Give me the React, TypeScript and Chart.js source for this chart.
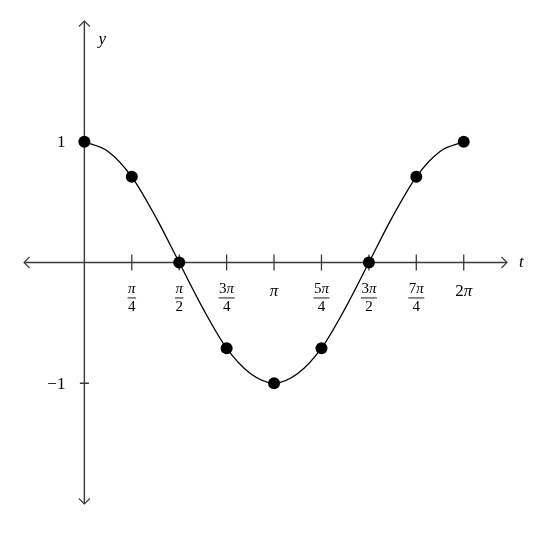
import { Chart, registerables, type Plugin } from "chart.js";
import { useEffect, useRef } from "react";

Chart.register(...registerables);

// marked points, in steps of π/4
const quarterSteps = [0, 1, 2, 3, 4, 5, 6, 7, 8];
const pointValues = [1, 0.71, 0, -0.71, -1, -0.71, 0, 0.71, 1];

// curve, in steps of π/8
const eighthSteps = [0, 1, 2, 3, 4, 5, 6, 7, 8, 9, 10, 11, 12, 13, 14, 15, 16];
const curveValues = [
  1, 0.92, 0.71, 0.38, 0, -0.38, -0.71, -0.92, -1, -0.92, -0.71, -0.38, 0, 0.38,
  0.71, 0.92, 1,
];

// t-axis ticks (steps of π/4) and their fraction labels
const tickSteps = [1, 2, 3, 4, 5, 6, 7, 8];
const tickNumerators = ["π", "π", "3π", "π", "5π", "3π", "7π", "2π"];
const tickDenominators = ["4", "2", "4", "", "4", "2", "4", ""];

// y-axis ticks
const yTickValues = [1, -1];
const yTickLabels = ["1", "−1"];

const SERIF = '"Times New Roman", "Liberation Serif", "DejaVu Serif", serif';
const AXIS_COLOR = "#3a3a3a";

// draws text where π is italic, centred at cx; returns its width
const drawMath = (
  ctx: CanvasRenderingContext2D,
  text: string,
  cx: number,
  cy: number,
  size: number
) => {
  const parts = text.split(/(π)/).filter(Boolean);
  const fontFor = (p: string) => `${p === "π" ? "italic " : ""}${size}px ${SERIF}`;
  const widths = parts.map((p) => {
    ctx.font = fontFor(p);
    return ctx.measureText(p).width;
  });
  const total = widths.reduce((a, b) => a + b, 0);
  let x = cx - total / 2;
  ctx.textAlign = "left";
  ctx.textBaseline = "middle";
  parts.forEach((p, i) => {
    ctx.font = fontFor(p);
    ctx.fillText(p, x, cy);
    x += widths[i];
  });
  return total;
};

const axesPlugin: Plugin<"line"> = {
  id: "mathAxes",
  beforeDatasetsDraw(chart) {
    const { ctx } = chart;
    const xs = chart.scales.x;
    const ys = chart.scales.y;
    const x0 = xs.getPixelForValue(0);
    const y0 = ys.getPixelForValue(0);
    const left = xs.getPixelForValue(xs.min);
    const right = xs.getPixelForValue(xs.max);
    const top = ys.getPixelForValue(ys.max);
    const bottom = ys.getPixelForValue(ys.min);

    ctx.save();
    ctx.strokeStyle = AXIS_COLOR;
    ctx.lineWidth = 1.4;
    ctx.beginPath();
    ctx.moveTo(left, y0);
    ctx.lineTo(right, y0);
    ctx.moveTo(x0, top);
    ctx.lineTo(x0, bottom);
    ctx.stroke();

    // arrow heads
    const a = 5.5;
    ctx.lineWidth = 1.1;
    ctx.beginPath();
    ctx.moveTo(left + a, y0 - a);
    ctx.lineTo(left, y0);
    ctx.lineTo(left + a, y0 + a);
    ctx.moveTo(right - a, y0 - a);
    ctx.lineTo(right, y0);
    ctx.lineTo(right - a, y0 + a);
    ctx.moveTo(x0 - a, top + a);
    ctx.lineTo(x0, top);
    ctx.lineTo(x0 + a, top + a);
    ctx.moveTo(x0 - a, bottom - a);
    ctx.lineTo(x0, bottom);
    ctx.lineTo(x0 + a, bottom - a);
    ctx.stroke();

    // tick marks
    ctx.lineWidth = 1.3;
    ctx.beginPath();
    tickSteps.forEach((k) => {
      const px = xs.getPixelForValue((k * Math.PI) / 4);
      ctx.moveTo(px, y0 - 8);
      ctx.lineTo(px, y0 + 8);
    });
    yTickValues.forEach((v) => {
      const py = ys.getPixelForValue(v);
      ctx.moveTo(x0 - 4.5, py);
      ctx.lineTo(x0 + 4.5, py);
    });
    ctx.stroke();
    ctx.restore();
  },
  afterDraw(chart) {
    const { ctx } = chart;
    const xs = chart.scales.x;
    const ys = chart.scales.y;
    const x0 = xs.getPixelForValue(0);
    const y0 = ys.getPixelForValue(0);
    const right = xs.getPixelForValue(xs.max);
    const top = ys.getPixelForValue(ys.max);

    ctx.save();
    ctx.fillStyle = "#000";
    ctx.strokeStyle = "#000";

    tickSteps.forEach((k, i) => {
      const px = xs.getPixelForValue((k * Math.PI) / 4);
      const num = tickNumerators[i];
      const den = tickDenominators[i];
      if (den) {
        const w1 = drawMath(ctx, num, px, y0 + 27, 15);
        const w2 = drawMath(ctx, den, px, y0 + 45, 15);
        const w = Math.max(w1, w2) + 1;
        ctx.fillRect(px - w / 2, y0 + 35, w, 0.9);
      } else {
        drawMath(ctx, num, px, y0 + 29, 17);
      }
    });

    yTickValues.forEach((v, i) => {
      const py = ys.getPixelForValue(v);
      ctx.font = `17px ${SERIF}`;
      ctx.textAlign = "right";
      ctx.textBaseline = "middle";
      ctx.fillText(yTickLabels[i], x0 - 19, py + 1);
    });

    ctx.font = `italic 17px ${SERIF}`;
    ctx.textAlign = "left";
    ctx.textBaseline = "middle";
    ctx.fillText("t", right + 12, y0);
    ctx.fillText("y", x0 + 14, top + 19);
    ctx.restore();
  },
};

const App = () => {
  const canvasRef = useRef<HTMLCanvasElement>(null);

  useEffect(() => {
    if (!canvasRef.current) return;
    const curve = eighthSteps.map((k, i) => ({
      x: (k * Math.PI) / 8,
      y: curveValues[i],
    }));
    const points = quarterSteps.map((k, i) => ({
      x: (k * Math.PI) / 4,
      y: pointValues[i],
    }));

    const chart = new Chart(canvasRef.current, {
      type: "line",
      data: {
        datasets: [
          {
            data: points,
            showLine: false,
            pointRadius: 6,
            pointBackgroundColor: "#000",
            pointBorderWidth: 0,
            clip: false,
          },
          {
            data: curve,
            borderColor: "#000",
            borderWidth: 1.3,
            cubicInterpolationMode: "monotone",
            pointRadius: 0,
            clip: false,
          },
        ],
      },
      options: {
        animation: false,
        responsive: true,
        maintainAspectRatio: false,
        layout: { padding: { left: 24, right: 47, top: 21, bottom: 32 } },
        plugins: {
          legend: { display: false },
          tooltip: { enabled: false },
        },
        scales: {
          x: { type: "linear", min: -1, max: 7, display: false },
          y: { type: "linear", min: -2, max: 2, display: false },
        },
      },
      plugins: [axesPlugin],
    });

    return () => chart.destroy();
  }, []);

  return (
    <div
      style={{
        position: "absolute",
        left: 0,
        top: 0,
        width: 554,
        height: 536,
        background: "#fff",
      }}
    >
      <canvas ref={canvasRef} />
    </div>
  );
};

export default App;
